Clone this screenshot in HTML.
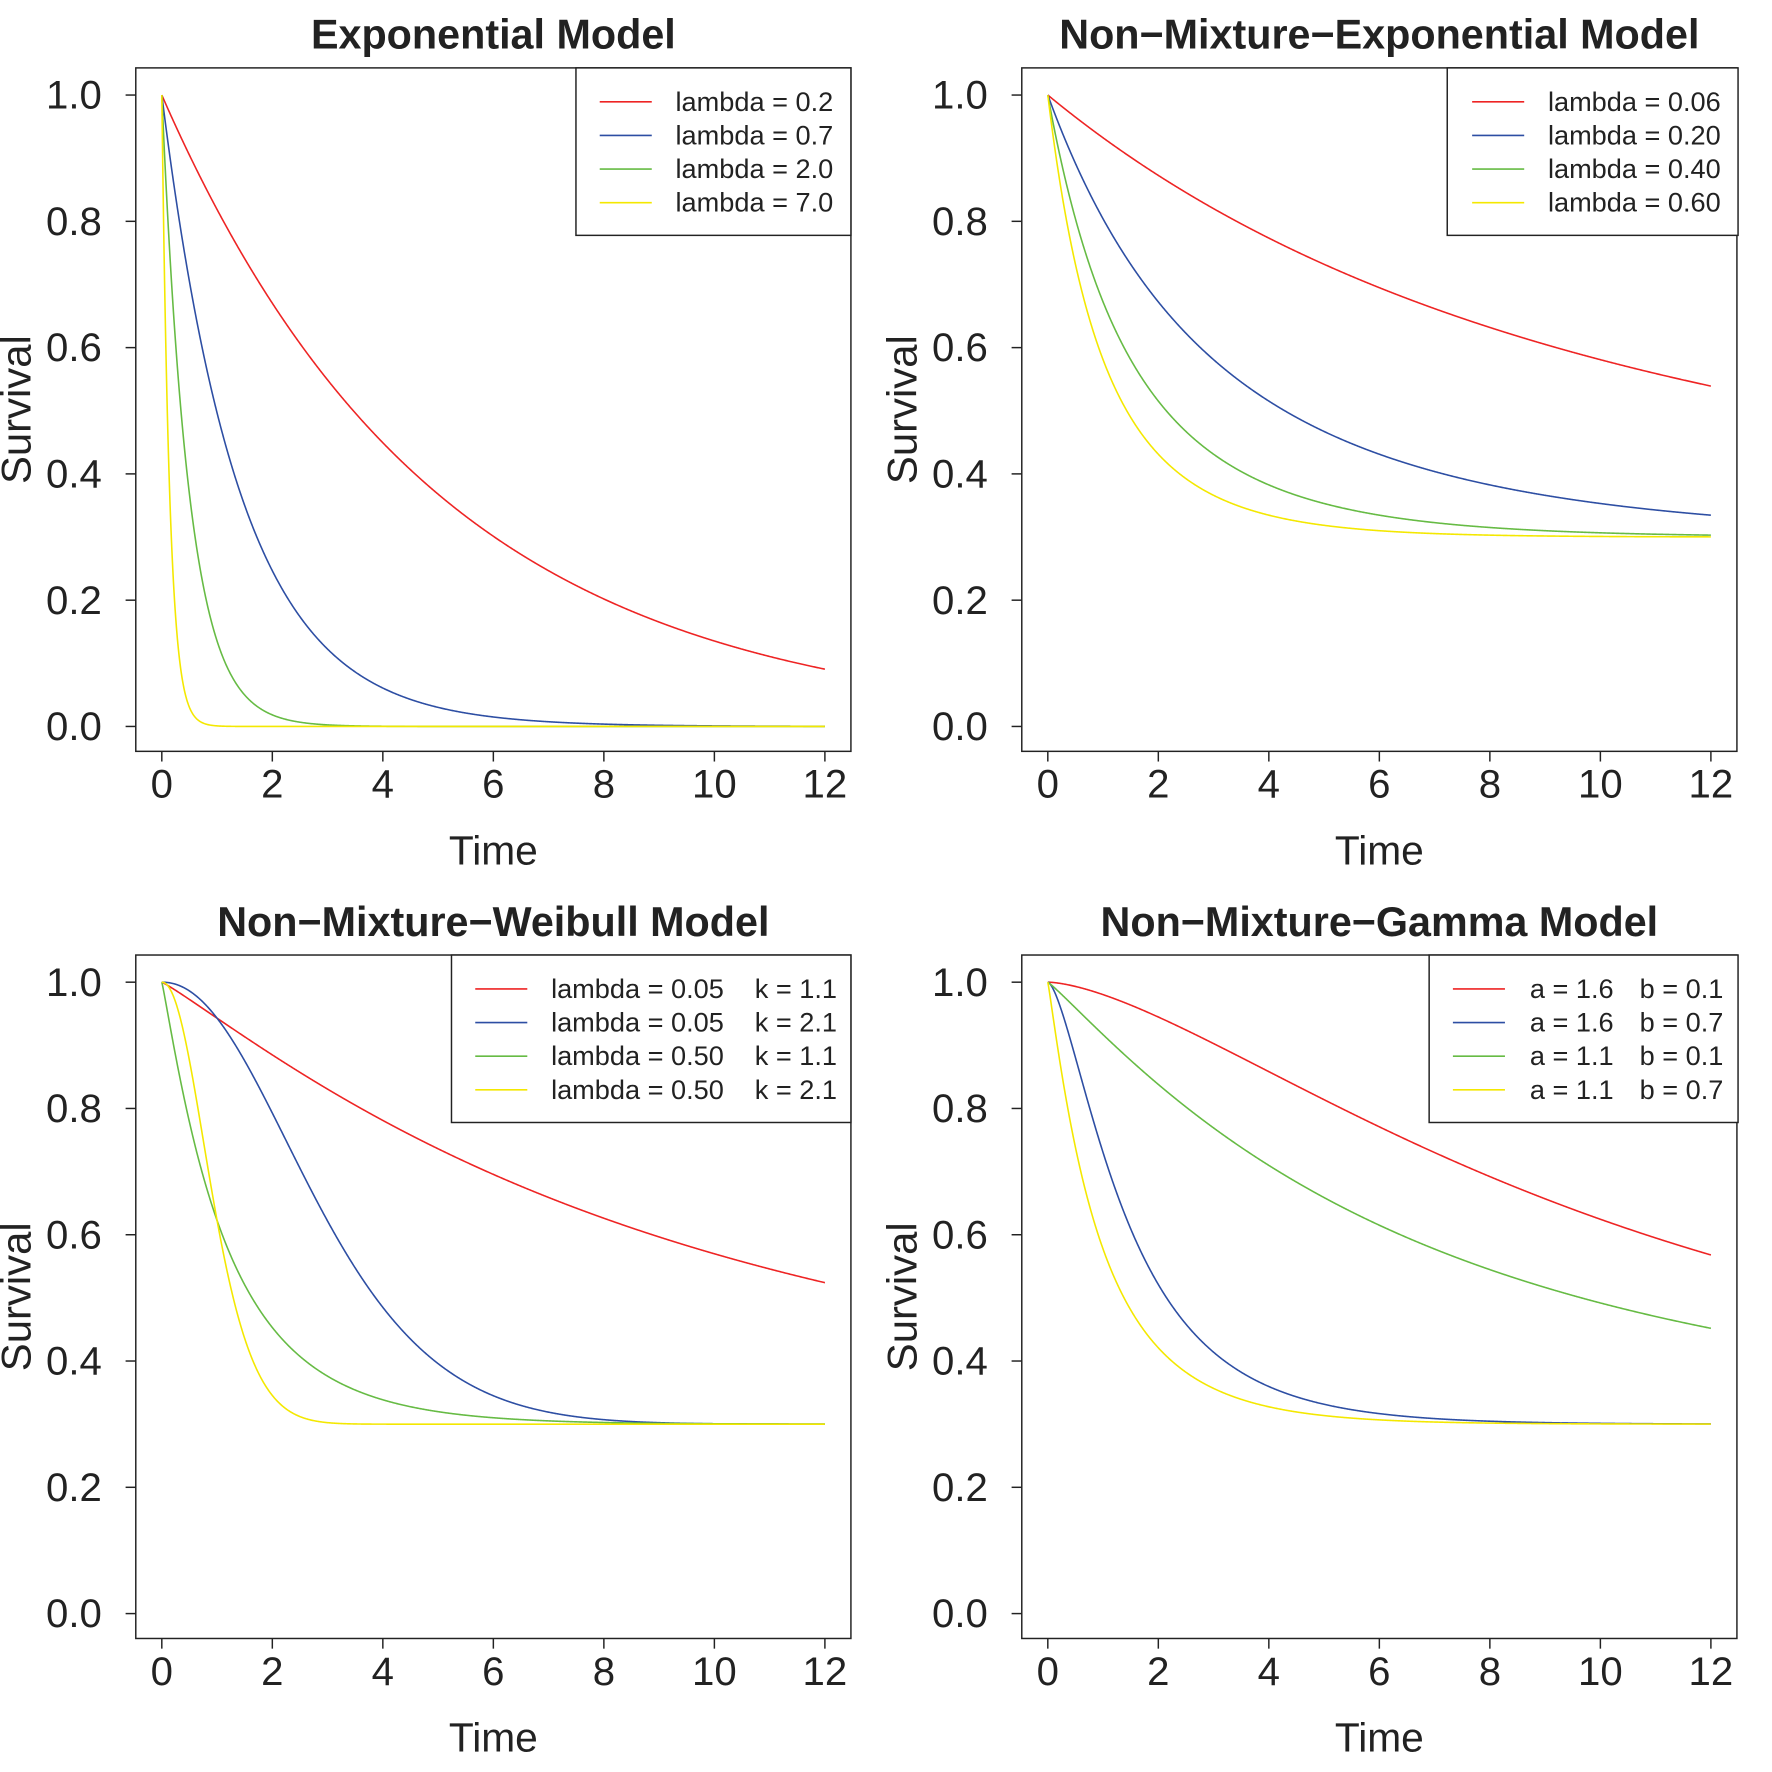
<!DOCTYPE html>
<html><head><meta charset="utf-8">
<style>
html,body{margin:0;padding:0;background:#fff;}
svg{display:block;}
text{font-family:"Liberation Sans",Arial,sans-serif;fill:#222;}
</style></head>
<body>
<svg id="s" width="1772" height="1772" viewBox="0 0 1566 1566" xmlns="http://www.w3.org/2000/svg"></svg>
<script>
const NS="http://www.w3.org/2000/svg";
const svg=document.getElementById('s');
function el(tag,attrs,txt){const e=document.createElementNS(NS,tag);for(const k in attrs)e.setAttribute(k,attrs[k]);if(txt!==undefined)e.textContent=txt;svg.appendChild(e);return e;}
const C=["#ee2424","#2d4ea3","#66bb44","#f4e800"];
function lgamma(z){const g=7,c=[0.99999999999980993,676.5203681218851,-1259.1392167224028,771.32342877765313,-176.61502916214059,12.507343278686905,-0.13857109526572012,9.9843695780195716e-6,1.5056327351493116e-7];
 if(z<0.5)return Math.log(Math.PI/Math.sin(Math.PI*z))-lgamma(1-z);
 z-=1;let x=c[0];for(let i=1;i<g+2;i++)x+=c[i]/(z+i);const t=z+g+0.5;
 return 0.5*Math.log(2*Math.PI)+(z+0.5)*Math.log(t)-t+Math.log(x);}
function pgamma(a,x){if(x<=0)return 0;
 if(x<a+1){let sum=1/a,term=1/a;for(let n=1;n<500;n++){term*=x/(a+n);sum+=term;if(term<sum*1e-14)break;}
  return sum*Math.exp(-x+a*Math.log(x)-lgamma(a));}
 let b=x+1-a,c=1e300,d=1/b,h=d;
 for(let i=1;i<500;i++){const an=-i*(i-a);b+=2;d=an*d+b;if(Math.abs(d)<1e-300)d=1e-300;c=b+an/c;if(Math.abs(c)<1e-300)c=1e-300;d=1/d;const del=d*c;h*=del;if(Math.abs(del-1)<1e-14)break;}
 return 1-Math.exp(-x+a*Math.log(x)-lgamma(a))*h;}
const p=0.3;
const panels=[
 {bx:120,by:60,title:"Exponential Model",
  f:[t=>Math.exp(-0.2*t),t=>Math.exp(-0.7*t),t=>Math.exp(-2*t),t=>Math.exp(-7*t)],
  leg:{x:509,w:243,lx:530,tx:597,rows:[["lambda = 0.2"],["lambda = 0.7"],["lambda = 2.0"],["lambda = 7.0"]]}},
 {bx:903,by:60,title:"Non\u2212Mixture\u2212Exponential Model",
  f:[0.06,0.2,0.4,0.6].map(l=>t=>Math.pow(p,1-Math.exp(-l*t))),
  leg:{x:1279,w:257,lx:1301,tx:1368,rows:[["lambda = 0.06"],["lambda = 0.20"],["lambda = 0.40"],["lambda = 0.60"]]}},
 {bx:120,by:844,title:"Non\u2212Mixture\u2212Weibull Model",
  f:[[0.05,1.1],[0.05,2.1],[0.5,1.1],[0.5,2.1]].map(([l,k])=>t=>Math.pow(p,1-Math.exp(-l*Math.pow(t,k)))),
  leg:{x:399,w:353,lx:420,tx:487,t2:667,rows:[["lambda = 0.05","k = 1.1"],["lambda = 0.05","k = 2.1"],["lambda = 0.50","k = 1.1"],["lambda = 0.50","k = 2.1"]]}},
 {bx:903,by:844,title:"Non\u2212Mixture\u2212Gamma Model",
  f:[[1.6,0.1],[1.6,0.7],[1.1,0.1],[1.1,0.7]].map(([a,b])=>t=>Math.pow(p,pgamma(a,b*t))),
  leg:{x:1263,w:273,lx:1284,tx:1352,t2:1449,rows:[["a = 1.6","b = 0.1"],["a = 1.6","b = 0.7"],["a = 1.1","b = 0.1"],["a = 1.1","b = 0.7"]]}}
];
for(const P of panels){
 const x0=P.bx+23,xs=586/12,y1=P.by+24,ys=558;
 const X=t=>x0+t*xs,Y=v=>y1+(1-v)*ys;
 const W=632,H=604;
 el('text',{x:P.bx+316,y:P.by-17,'text-anchor':'middle','font-size':36.5,'font-weight':'bold'},P.title);
 P.f.forEach((fn,i)=>{let d="";for(let j=0;j<=1200;j++){const t=j*0.01;d+=(j?"L":"M")+X(t).toFixed(2)+" "+Y(fn(t)).toFixed(2);}
  el('path',{d:d,fill:'none',stroke:C[i],'stroke-width':1.4});});
 el('rect',{x:P.bx,y:P.by,width:W,height:H,fill:'none',stroke:'#222','stroke-width':1.3});
 for(let t=0;t<=12;t+=2){el('line',{x1:X(t),y1:P.by+H,x2:X(t),y2:P.by+H+9,stroke:'#222','stroke-width':1.3});
  el('text',{x:X(t),y:P.by+H+41,'text-anchor':'middle','font-size':35.5},String(t));}
 for(let k=0;k<=5;k++){const v=k*0.2;el('line',{x1:P.bx,y1:Y(v),x2:P.bx-9,y2:Y(v),stroke:'#222','stroke-width':1.3});
  el('text',{x:P.bx-30,y:Y(v)+12,'text-anchor':'end','font-size':35.5},v.toFixed(1));}
 el('text',{x:P.bx+316,y:P.by+H+100,'text-anchor':'middle','font-size':36},"Time");
 const sx=P.bx-93,sy=P.by+302;
 el('text',{x:sx,y:sy,'text-anchor':'middle','font-size':37,transform:`rotate(-90 ${sx} ${sy})`},"Survival");
 const L=P.leg;
 el('rect',{x:L.x,y:P.by,width:L.w,height:148,fill:'#fff',stroke:'#222','stroke-width':1.3});
 L.rows.forEach((r,i)=>{const yy=P.by+30+i*29.7;
  el('line',{x1:L.lx,y1:yy,x2:L.lx+46,y2:yy,stroke:C[i],'stroke-width':1.4});
  el('text',{x:L.tx,y:yy+8,'font-size':24},r[0]);
  if(r[1])el('text',{x:L.t2,y:yy+8,'font-size':24},r[1]);});
}
</script>
</body></html>
